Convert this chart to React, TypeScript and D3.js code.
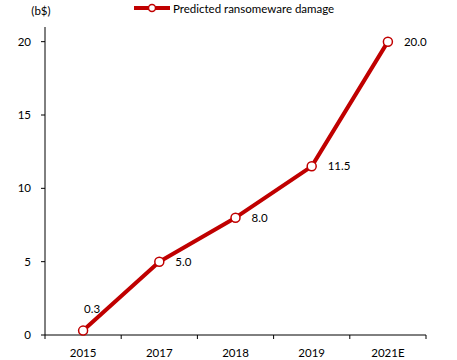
import React from "react";
import * as d3 from "d3";

const categories = ["2015", "2017", "2018", "2019", "2021E"];
const values = [0.3, 5.0, 8.0, 11.5, 20.0];
const valueLabels = ["0.3", "5.0", "8.0", "11.5", "20.0"];
const yTicks = [0, 5, 10, 15, 20];
const seriesName = "Predicted ransomeware damage";
const unitLabel = "(b$)";

const W = 457;
const H = 360;
const left = 45;
const right = 426;
const top = 27;
const bottom = 335;
const RED = "#C00000";
const FONT = "Lato, 'Open Sans', sans-serif";

export default function App() {
  const x = d3.scaleBand<string>().domain(categories).range([left, right]);
  const y = d3.scaleLinear().domain([0, 21]).range([bottom, top]);
  const cx = (c: string) => (x(c) as number) + x.bandwidth() / 2;
  const line = d3
    .line<number>()
    .x((_, i) => cx(categories[i]))
    .y((v) => y(v));
  const bounds = [...categories.map((c) => x(c) as number), right];

  return (
    <svg
      width={W}
      height={H}
      style={{ position: "absolute", left: 0, top: 0 }}
      fontFamily={FONT}
      fontSize={11.5}
    >
      <rect width={W} height={H} fill="#fff" />
      {/* y axis */}
      <line x1={left} x2={left} y1={top} y2={bottom} stroke="#000" strokeWidth={1} />
      {yTicks.map((t) => (
        <g key={t}>
          <line x1={left - 4} x2={left} y1={y(t)} y2={y(t)} stroke="#000" />
          <text x={31} y={y(t)} dy="0.35em" textAnchor="end" fill="#000">
            {t}
          </text>
        </g>
      ))}
      <text x={41} y={11} dy="0.35em" textAnchor="middle" fill="#000">
        {unitLabel}
      </text>
      {/* x axis */}
      <line x1={left} x2={right} y1={bottom} y2={bottom} stroke="#000" strokeWidth={1} />
      {bounds.map((b, i) => (
        <line key={i} x1={b} x2={b} y1={bottom} y2={bottom + 4} stroke="#000" />
      ))}
      {categories.map((c) => (
        <text key={c} x={cx(c)} y={353} dy="0.35em" textAnchor="middle" fill="#000">
          {c}
        </text>
      ))}
      {/* series */}
      <path d={line(values) || ""} fill="none" stroke={RED} strokeWidth={4} strokeLinejoin="round" />
      {values.map((v, i) => (
        <circle key={i} cx={cx(categories[i])} cy={y(v)} r={4.5} fill="#fff" stroke={RED} strokeWidth={1.5} />
      ))}
      {values.map((v, i) =>
        i === 0 ? (
          <text key={i} x={cx(categories[i]) + 9} y={y(v) - 22} dy="0.35em" textAnchor="middle" fill="#000">
            {valueLabels[i]}
          </text>
        ) : (
          <text key={i} x={cx(categories[i]) + 16} y={y(v)} dy="0.35em" textAnchor="start" fill="#000">
            {valueLabels[i]}
          </text>
        )
      )}
      {/* legend */}
      <line x1={134} x2={170} y1={8} y2={8} stroke={RED} strokeWidth={4} />
      <circle cx={152} cy={8} r={3.5} fill="#fff" stroke={RED} strokeWidth={1.5} />
      <text x={173} y={9} dy="0.35em" fill="#000">
        {seriesName}
      </text>
    </svg>
  );
}
